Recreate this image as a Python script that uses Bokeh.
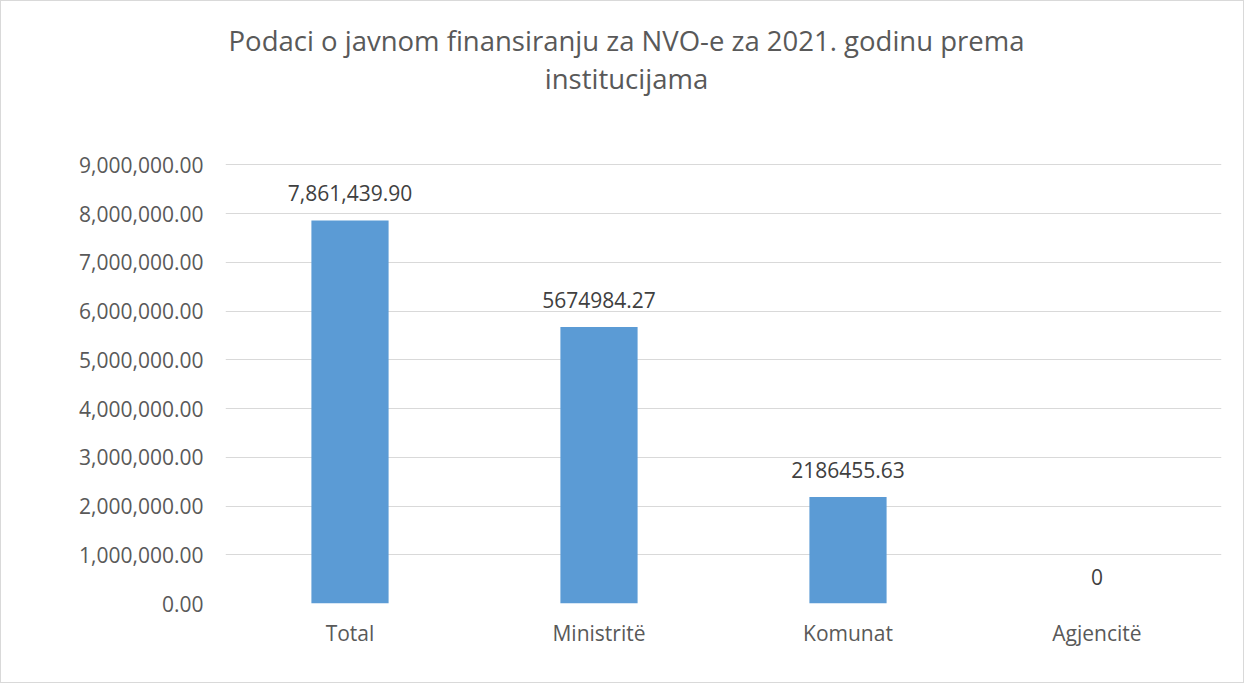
from bokeh.plotting import figure
from bokeh.layouts import column
from bokeh.models import (FactorRange, Range1d, FixedTicker, NumeralTickFormatter,
                          ColumnDataSource)
from bokeh.core.properties import value
from bokeh.embed import file_html
from bokeh.resources import INLINE

categories = ["Total", "Ministritë", "Komunat", "Agjencitë"]
values = [7861439.90, 5674984.27, 2186455.63, 0]
value_labels = ["7,861,439.90", "5674984.27", "2186455.63", "0"]
y_ticks = [0, 1000000, 2000000, 3000000, 4000000, 5000000, 6000000, 7000000, 8000000, 9000000]
title_lines = ["Podaci o javnom finansiranju za NVO-e za 2021. godinu prema", "institucijama"]

FONT = "Open Sans"
W = 1242
TH = 120
BL, BR = 224, 22

# title strip (its frame is aligned with the chart frame by the column layout,
# so the x range is expressed in canvas pixels of that frame)
tf = figure(width=W, height=TH, output_backend="svg", toolbar_location=None,
            x_range=Range1d(BL, W - BR), y_range=Range1d(TH, 0),
            x_axis_type=None, y_axis_type=None,
            min_border_left=BL, min_border_right=BR, min_border_top=0, min_border_bottom=0)
tf.outline_line_color = None
tf.grid.grid_line_color = None
tsrc = ColumnDataSource(dict(x=[625, 625], y=[39, 77], t=title_lines))
tf.text(x="x", y="y", text="t", source=tsrc, text_align="center", text_baseline="middle",
        text_font=value(FONT), text_font_size="27.5px", text_color="#595959")

src = ColumnDataSource(dict(cat=categories, val=values, lab=value_labels))

p = figure(width=W, height=681 - TH, output_backend="svg", toolbar_location=None,
           x_range=FactorRange(*categories, range_padding=0),
           y_range=Range1d(0, 9050000),
           min_border_left=BL, min_border_right=BR, min_border_top=161 - TH, min_border_bottom=79)
p.outline_line_color = None
p.background_fill_color = "white"
p.border_fill_color = "white"

p.vbar(x="cat", top="val", width=0.31, source=src, fill_color="#5b9bd5", line_color=None)
p.text(x="cat", y="val", text="lab", source=src, text_align="center", text_baseline="bottom",
       y_offset=-19, text_font=value(FONT), text_font_size="21px", text_color="#404040")

p.xgrid.grid_line_color = None
p.ygrid.grid_line_color = "#d9d9d9"
p.ygrid.grid_line_width = 1

p.yaxis.ticker = FixedTicker(ticks=y_ticks)
p.yaxis.formatter = NumeralTickFormatter(format="0,0.00")
for ax in (p.xaxis[0], p.yaxis[0]):
    ax.axis_line_color = None
    ax.major_tick_line_color = None
    ax.minor_tick_line_color = None
    ax.major_tick_out = 0
    ax.major_tick_in = 0
    ax.major_label_text_font = FONT
    ax.major_label_text_font_size = "21px"
    ax.major_label_text_color = "#595959"
p.yaxis.major_label_standoff = 22
p.xaxis.major_label_standoff = 15

layout = column(tf, p, spacing=0)
layout.styles = {"border": "1px solid #d9d9d9"}

open("out.html", "w").write(file_html(layout, INLINE))
